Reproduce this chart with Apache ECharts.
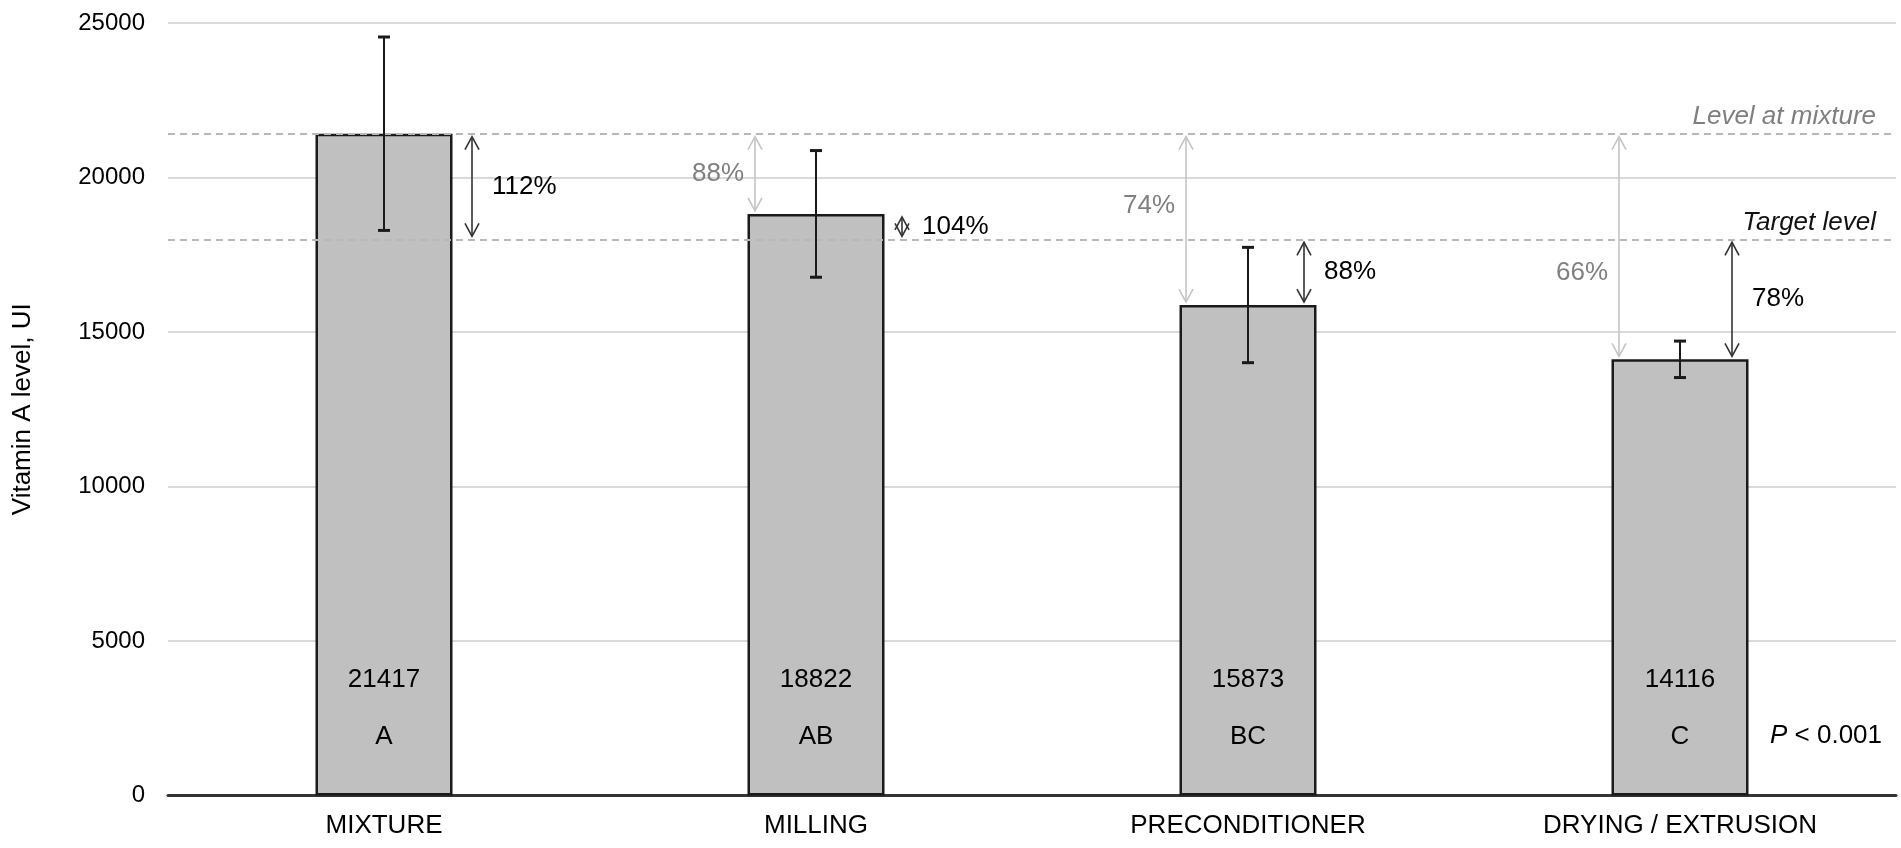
<!DOCTYPE html>
<html>
<head>
<meta charset="utf-8">
<title>Vitamin A level</title>
<script src="https://cdn.jsdelivr.net/npm/echarts@6/dist/echarts.min.js"></script>
<style>
  html, body { margin: 0; padding: 0; background: #fff; }
  #chart-show { width: 1901px; height: 848px; }
</style>
</head>
<body>
<div id="chart-show"></div>
<script>
// data
var categories = ['MIXTURE', 'MILLING', 'PRECONDITIONER', 'DRYING / EXTRUSION'];
var means = [21417, 18822, 15873, 14116];
var sds = [3130, 2050, 1866, 590];
var groups = ['A', 'AB', 'BC', 'C'];
var levelAtMixture = 21417;
var targetLevel = 18000;
var pctOfMixture = ['', '88%', '74%', '66%'];
var pctOfTarget = ['112%', '104%', '88%', '78%'];
var yMax = 25000;
var yStep = 5000;

// layout tweaks (pixels)
var grayArrowDx = [0, -61, -62, -61];
var grayLabelDy = [0, 0, -14, 26];
var darkArrowDx = [88, 86, 56, 52];

var FONT = '"Liberation Sans", Arial, sans-serif';

window.onload = all;
function all() {
    vitaminChart();
}

function arrowRender(dxList, dyList, lineColor, textColor, labelDx, align, labels) {
    return function (params, api) {
        var i = api.value(0);
        var a = api.coord([i, api.value(1)]);
        var b = api.coord([i, api.value(2)]);
        var x = a[0] + dxList[i];
        var yTop = Math.min(a[1], b[1]) + 3;
        var yBot = Math.max(a[1], b[1]) - 3;
        var hw = 7, hl = 13;
        var st = { stroke: lineColor, lineWidth: 1.6, fill: null };
        return {
            type: 'group',
            children: [
                { type: 'line', shape: { x1: x, y1: yTop, x2: x, y2: yBot }, style: st },
                { type: 'polyline', shape: { points: [[x - hw, yTop + hl], [x, yTop], [x + hw, yTop + hl]] }, style: st },
                { type: 'polyline', shape: { points: [[x - hw, yBot - hl], [x, yBot], [x + hw, yBot - hl]] }, style: st },
                {
                    type: 'text',
                    style: {
                        x: x + labelDx,
                        y: (yTop + yBot) / 2 + (dyList ? dyList[i] : 0),
                        text: labels[i],
                        fill: textColor,
                        font: '26px ' + FONT,
                        align: align,
                        verticalAlign: 'middle'
                    }
                }
            ]
        };
    };
}

function vitaminChart() {
    var myChart = echarts.init(document.getElementById('chart-show'));

    var errData = means.map(function (m, i) { return [i, m + sds[i], m - sds[i]]; });
    var grayData = [];
    pctOfMixture.forEach(function (p, i) {
        if (p) grayData.push([i, levelAtMixture, means[i]]);
    });
    var darkData = pctOfTarget.map(function (p, i) { return [i, targetLevel, means[i]]; });

    var option = {
        animation: false,
        textStyle: { fontFamily: FONT },
        grid: { left: 168, right: 5, top: 23, bottom: 52.5 },
        xAxis: {
            type: 'category',
            data: categories,
            axisTick: { show: false },
            axisLine: { lineStyle: { color: '#333', width: 3 } },
            axisLabel: { color: '#000', fontSize: 26, margin: 17, fontFamily: FONT }
        },
        yAxis: {
            type: 'value',
            min: 0,
            max: yMax,
            interval: yStep,
            name: 'Vitamin A level, UI',
            nameLocation: 'middle',
            nameGap: 132,
            nameTextStyle: { color: '#000', fontSize: 26, fontFamily: FONT },
            axisLine: { show: false },
            axisTick: { show: false },
            axisLabel: {
                color: '#000', fontSize: 24, margin: 23, fontFamily: FONT,
                formatter: function (v) { return String(v); }
            },
            splitLine: { lineStyle: { color: '#d9d9d9', width: 2 } }
        },
        series: [
            {
                type: 'bar',
                data: means,
                barWidth: 137,
                itemStyle: { color: '#c0c0c0', borderColor: '#1a1a1a', borderWidth: 2.5 },
                label: {
                    show: true,
                    position: 'insideBottom',
                    distance: 30,
                    formatter: function (p) {
                        return '{v|' + p.value + '}\n{g|' + groups[p.dataIndex] + '}';
                    },
                    rich: {
                        v: { fontSize: 26, lineHeight: 57, color: '#000', fontFamily: FONT },
                        g: { fontSize: 26, lineHeight: 57, color: '#000', fontFamily: FONT }
                    }
                },
                markLine: {
                    silent: true,
                    symbol: ['none', 'none'],
                    lineStyle: { type: [7, 5], width: 2, color: '#b8b8b8' },
                    label: {
                        position: 'insideEndTop',
                        fontStyle: 'italic',
                        fontSize: 26,
                        fontFamily: FONT,
                        distance: [20, 4]
                    },
                    data: [
                        { yAxis: levelAtMixture, label: { formatter: 'Level at mixture', color: '#7f7f7f' } },
                        { yAxis: targetLevel, label: { formatter: 'Target level', color: '#111' } }
                    ]
                },
                z: 2
            },
            {
                type: 'custom',
                data: errData,
                z: 5,
                renderItem: function (params, api) {
                    var i = api.value(0);
                    var top = api.coord([i, api.value(1)]);
                    var bot = api.coord([i, api.value(2)]);
                    var x = top[0], cw = 6;
                    var st = { stroke: '#1a1a1a', lineWidth: 2 };
                    var cap = { stroke: '#1a1a1a', lineWidth: 3 };
                    return {
                        type: 'group',
                        children: [
                            { type: 'line', shape: { x1: x, y1: top[1], x2: x, y2: bot[1] }, style: st },
                            { type: 'line', shape: { x1: x - cw, y1: top[1], x2: x + cw, y2: top[1] }, style: cap },
                            { type: 'line', shape: { x1: x - cw, y1: bot[1], x2: x + cw, y2: bot[1] }, style: cap }
                        ]
                    };
                }
            },
            {
                type: 'custom',
                data: grayData,
                z: 6,
                renderItem: arrowRender(grayArrowDx, grayLabelDy, '#c4c4c4', '#808080', -11, 'right', pctOfMixture)
            },
            {
                type: 'custom',
                data: darkData,
                z: 6,
                renderItem: arrowRender(darkArrowDx, null, '#333', '#000', 20, 'left', pctOfTarget)
            }
        ],
        graphic: [
            {
                type: 'text',
                left: 1770,
                top: 723,
                style: {
                    text: '{i|P} < 0.001',
                    fill: '#000',
                    font: '26px ' + FONT,
                    rich: { i: { fontStyle: 'italic', fontSize: 26, fontFamily: FONT, fill: '#000' } }
                }
            }
        ]
    };

    myChart.setOption(option);
    window.onresize = function () {
        myChart.resize();
    };
}
</script>
</body>
</html>
